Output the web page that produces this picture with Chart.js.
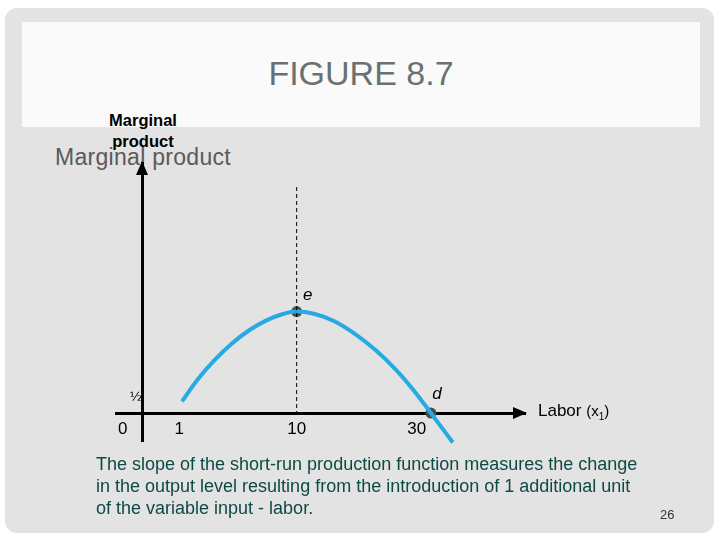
<!DOCTYPE html>
<html>
<head>
<meta charset="utf-8">
<script src="https://cdn.jsdelivr.net/npm/chart.js@4.4.1/dist/chart.umd.min.js"></script>
<style>
  body { margin: 0; width: 720px; height: 540px; background: #fff; position: relative; overflow: hidden;
         font-family: "Liberation Sans", Arial, sans-serif; }
  #frame { position: absolute; left: 5px; top: 8px; width: 709px; height: 525px; background: #e3e3e3; border-radius: 12px; }
  #head { position: absolute; left: 22px; top: 22px; width: 678px; height: 105px; background: #fafafa; }
  #title { position: absolute; left: 22px; top: 54px; width: 678px; text-align: center; font-size: 34px; color: #6a7171; }
  #wrap { position: absolute; left: 0; top: 0; width: 720px; height: 540px; }
  .txt { position: absolute; white-space: nowrap; }
</style>
</head>
<body>
<div id="frame"></div>
<div id="head"></div>
<div id="title">FIGURE 8.7</div>
<div class="txt" style="left:83px;top:110px;width:120px;text-align:center;font-size:16.5px;font-weight:bold;line-height:21px;color:#000;">Marginal<br>product</div>
<div class="txt" style="left:33px;top:144px;width:220px;text-align:center;font-size:23px;letter-spacing:0.3px;color:#5a5a5a;">Marginal product</div>
<div id="wrap"><canvas id="chart" width="720" height="540"></canvas></div>
<div class="txt" style="left:538px;top:401px;font-size:17px;color:#000;">Labor <span style="font-size:15px">(x<sub style="font-size:10px">1</sub>)</span></div>
<div class="txt" style="left:96px;top:453px;font-size:18px;line-height:22px;color:#0e4a44;">The slope of the short-run production function measures the change<br>in the output level resulting from the introduction of 1 additional unit<br>of the variable input - labor.</div>
<div class="txt" style="left:660px;top:507px;font-size:13px;color:#333;">26</div>

<script>
// axis ticks (schematic labour positions)
var xTickPos = [-1.6, 3.1, 12.9, 22.9];
var xTickLabels = ['0', '1', '10', '30'];
var yTickPos = [0.5];
var yTickLabels = ['½'];

// marginal product curve
var mpX = [3.33, 4.62, 6.04, 7.47, 8.9, 10.33, 11.75, 12.89, 14.32, 16.03, 17.74, 19.46, 21.17, 22.6, 24.08, 25.9];
var mpY = [0.39, 1.11, 1.76, 2.31, 2.75, 3.08, 3.30, 3.38, 3.31, 3.06, 2.64, 2.10, 1.44, 0.78, 0.0, -0.98];

// marked points e and d
var ptX = [12.89, 24.08];
var ptY = [3.38, 0];
var ptLabels = ['e', 'd'];

// dashed line through e
var dashX = [12.89, 12.89];
var dashY = [7.53, 0];

function xy(xs, ys) {
	return xs.map(function(v, i) { return {x: v, y: ys[i]}; });
}

var arrows = {
	id: 'arrows',
	afterDraw: function(chart) {
		var ctx = chart.ctx, xs = chart.scales.x, ys = chart.scales.y;
		var ox = xs.getPixelForValue(0), oy = ys.getPixelForValue(0);
		var tx = xs.getPixelForValue(xs.max), ty = ys.getPixelForValue(ys.max);
		ctx.save();
		ctx.fillStyle = '#000';
		ctx.beginPath();
		ctx.moveTo(tx + 2, oy); ctx.lineTo(tx - 12, oy - 6); ctx.lineTo(tx - 12, oy + 6); ctx.closePath();
		ctx.fill();
		ctx.beginPath();
		ctx.moveTo(ox, ty - 2); ctx.lineTo(ox - 6, ty + 12); ctx.lineTo(ox + 6, ty + 12); ctx.closePath();
		ctx.fill();
		// point labels
		var meta = chart.getDatasetMeta(2);
		ctx.font = 'italic 17px "Liberation Sans", Arial, sans-serif';
		ctx.textAlign = 'center';
		ctx.textBaseline = 'middle';
		var offs = [[11, -16], [6, -19]];
		meta.data.forEach(function(p, i) {
			ctx.fillText(ptLabels[i], p.x + offs[i][0], p.y + offs[i][1]);
		});
		ctx.restore();
	}
};

new Chart(document.getElementById('chart'), {
	type: 'scatter',
	data: {
		datasets: [
			{ data: xy(dashX, dashY), showLine: true, borderColor: '#000', borderWidth: 1, borderDash: [4, 3], pointRadius: 0, clip: false },
			{ data: xy(mpX, mpY), showLine: true, borderColor: '#27a9e1', borderWidth: 4, cubicInterpolationMode: 'monotone', pointRadius: 0, clip: false },
			{ data: xy(ptX, ptY), pointRadius: 5.5, pointBackgroundColor: '#4b4b4b', pointBorderColor: '#4b4b4b', pointBorderWidth: 0, clip: false }
		]
	},
	options: {
		responsive: false,
		animation: false,
		layout: { padding: { left: 116, right: 195, top: 163, bottom: 99 } },
		plugins: { legend: { display: false }, tooltip: { enabled: false } },
		scales: {
			x: {
				type: 'linear', min: -2.17, max: 31.92,
				position: { y: 0 },
				grid: { display: false, drawTicks: false },
				border: { display: true, color: '#000', width: 3 },
				afterBuildTicks: function(s) { s.ticks = xTickPos.map(function(v) { return {value: v}; }); },
				ticks: { autoSkip: false, padding: 6, color: '#000', font: { size: 17, family: '"Liberation Sans", Arial, sans-serif' },
					callback: function(v, i) { return xTickLabels[i]; } }
			},
			y: {
				type: 'linear', min: -0.93, max: 8.33,
				position: { x: 0 },
				grid: { display: false, drawTicks: false },
				border: { display: true, color: '#000', width: 3 },
				afterBuildTicks: function(s) { s.ticks = yTickPos.map(function(v) { return {value: v}; }); },
				ticks: { autoSkip: false, padding: 14, color: '#000', font: { size: 13, family: '"DejaVu Sans", sans-serif' },
					callback: function(v, i) { return yTickLabels[i]; } }
			}
		}
	},
	plugins: [arrows]
});
</script>
</body>
</html>
